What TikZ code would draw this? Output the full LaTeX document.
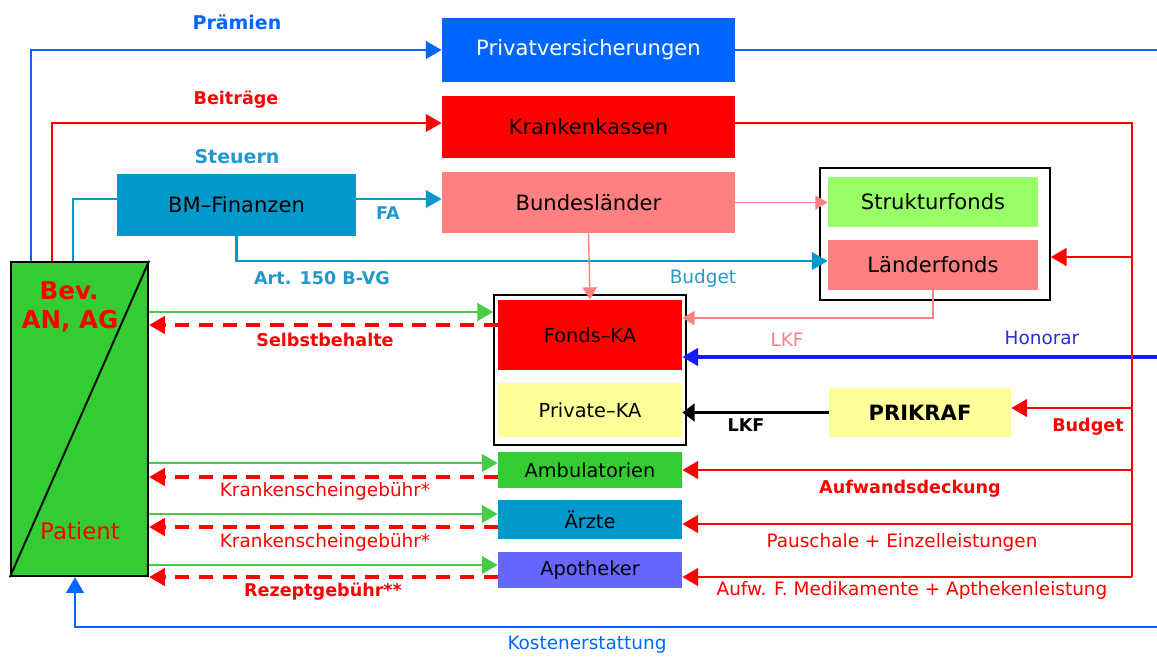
\documentclass[tikz,border=0pt]{standalone}
\usepackage{fontspec}
\setmainfont{DejaVu Sans}
\usetikzlibrary{arrows.meta,calc}
\definecolor{pvblue}{HTML}{0066FF}
\definecolor{kkred}{HTML}{FF0000}
\definecolor{pink}{HTML}{FF8080}
\definecolor{teal}{HTML}{0099CC}
\definecolor{lteal}{HTML}{2299CC}
\definecolor{lgreen}{HTML}{99FF66}
\definecolor{yel}{HTML}{FFFF99}
\definecolor{grn}{HTML}{33CC33}
\definecolor{lgrn}{HTML}{44CC44}
\definecolor{purp}{HTML}{6666FF}
\definecolor{honblue}{HTML}{1A1AFF}
\definecolor{honlbl}{HTML}{2A2AE0}
\newcommand\mybox[7]{%
  \node[#6, minimum width={(#4-#2)*0.02cm}, minimum height={(#5-#3)*0.02cm}]
    (#1) at ({(#2+#4)/2},{(#3+#5)/2}) {#7};}
\begin{document}
\begin{tikzpicture}[x=0.02cm,y=-0.02cm,
  box/.style={draw=none, inner sep=0pt, font=\fontsize{12}{14}\selectfont},
  sbox/.style={box, font=\fontsize{11}{13}\selectfont},
  grp/.style={draw=black, line width=0.9pt, inner sep=0pt},
  lbl/.style={font=\fontsize{10.5}{12}\selectfont, inner sep=0pt},
  blbl/.style={font=\fontsize{10}{12}\selectfont\bfseries, inner sep=0pt},
  bblbl/.style={font=\fontsize{10.8}{12}\selectfont\bfseries, inner sep=0pt},
  tipA/.style={-{Triangle[length=9pt,width=10pt]}},
  tipB/.style={-{Triangle[length=7pt,width=8pt]}},
  dashred/.style={draw=kkred, line width=1.8pt, dash pattern=on 8pt off 5.5pt, tipA},
  greenarr/.style={draw=lgrn, line width=1.4pt, tipA},
  redtrunk/.style={draw=kkred, line width=1.6pt},
]
\useasboundingbox (0,0) rectangle (1157,657);

% group frames
\mybox{g1}{820}{168}{1050}{300}{grp}{}
\mybox{g2}{494}{295}{686}{445}{grp}{}

% boxes
\mybox{pv}{442}{18}{735}{82}{box, fill=pvblue, text=white}{Privatversicherungen}
\mybox{kk}{442}{96}{735}{158}{box, fill=kkred}{Krankenkassen}
\mybox{bl}{442}{172}{735}{233}{box, fill=pink}{Bundesländer}
\mybox{bm}{117}{174}{356}{236}{box, fill=teal}{BM–Finanzen}
\mybox{sf}{828}{177}{1038}{227}{box, fill=lgreen}{Strukturfonds}
\mybox{lf}{828}{240}{1038}{290}{box, fill=pink}{Länderfonds}
\mybox{fka}{498}{300}{682}{370}{sbox, fill=kkred}{Fonds–KA}
\mybox{pka}{498}{383}{682}{437}{sbox, fill=yel}{Private–KA}
\mybox{amb}{498}{452}{682}{488}{sbox, fill=grn}{Ambulatorien}
\mybox{arz}{498}{500}{682}{539}{sbox, fill=teal}{Ärzte}
\mybox{apo}{498}{552}{682}{588}{sbox, fill=purp}{Apotheker}
\mybox{prk}{829}{388}{1011}{437}{box, fill=yel, font=\fontsize{12}{14}\selectfont\bfseries}{PRIKRAF}

% patient box
\mybox{pat}{11}{262}{148}{576}{draw=black, line width=1.3pt, fill=grn, inner sep=0pt}{}
\draw[line width=1.1pt] (pat.south west) -- (pat.north east);
\node[inner sep=0pt, text=kkred, font=\fontsize{14}{16}\selectfont\bfseries] (tbev) at (69,291) {Bev.};
\node[inner sep=0pt, text=kkred, font=\fontsize{14}{16}\selectfont\bfseries] (tan) at (70,321) {AN, AG};
\node[inner sep=0pt, text=kkred, font=\fontsize{13}{15}\selectfont] (tpat) at (80,531) {Patient};

% free ends at the right edge
\coordinate (epv) at (1157,48);
\coordinate (ehon) at (1157,357);
\coordinate (eke) at (1157,627);
\coordinate (r1) at (1132,257);
\coordinate (r2) at (1132,408);
\coordinate (r3) at (1132,470);
\coordinate (r4) at (1132,524);
\coordinate (r5) at (1132,577);

% top flows
\draw[draw=pvblue, line width=1.5pt, tipA] ([xshift=0.42cm]pat.north west) |- (pv.west);
\draw[draw=pvblue, line width=1.5pt] (pv.east) -- (pv.east -| epv);
\draw[draw=kkred, line width=1.2pt, tipA] ([xshift=0.84cm]pat.north west) |- ([yshift=0.08cm]kk.west);
\draw[draw=teal, line width=1.2pt] ([xshift=1.26cm]pat.north west) |- ([yshift=0.12cm]bm.west);
\draw[draw=teal, line width=1.2pt, tipA] ([yshift=0.12cm]bm.east) -- ([yshift=0.12cm]bm.east -| bl.west);
\draw[draw=teal, line width=1.2pt, tipA] (bm.south) |- ([yshift=0.08cm]lf.west);
\draw[draw=pink, line width=0.8pt, tipB] (bl.east) -- (bl.east -| sf.west);
\draw[draw=pink, line width=0.8pt, tipB] (bl.south) -- (fka.north);
\draw[draw=pink, line width=0.8pt, tipB] (lf.south) |- ([yshift=0.34cm]fka.east);

% right side
\draw[draw=honblue, line width=1.8pt, tipA] (ehon) -- (ehon -| fka.east);
\draw[draw=black, line width=2.2pt, -{Triangle[length=7pt,width=10pt]}] (prk.west) -- (prk.west -| pka.east);
\draw[redtrunk] ([yshift=0.08cm]kk.east) -| (r5);
\draw[redtrunk, tipA] (r1) -- (r1 -| g1.east);
\draw[redtrunk, tipA] (r2) -- (r2 -| prk.east);
\draw[redtrunk, tipA] (r3) -- (r3 -| amb.east);
\draw[redtrunk, tipA] (r4) -- (r4 -| arz.east);
\draw[redtrunk, tipA] (r5) -- (r5 -| apo.east);

% patient flows
\draw[greenarr] (pat.east |- 0,312) -- (g2.west |- 0,312);
\draw[dashred] (fka.west |- 0,325) -- (pat.east |- 0,325);
\draw[greenarr] (pat.east |- 0,463) -- (amb.west |- 0,463);
\draw[dashred] (amb.west |- 0,477) -- (pat.east |- 0,477);
\draw[greenarr] (pat.east |- 0,514) -- (arz.west |- 0,514);
\draw[dashred] (arz.west |- 0,527) -- (pat.east |- 0,527);
\draw[greenarr] (pat.east |- 0,565) -- (apo.west |- 0,565);
\draw[dashred] (apo.west |- 0,577) -- (pat.east |- 0,577);

% Kostenerstattung
\draw[draw=pvblue, line width=1.3pt, tipA] (eke) -| (75,0 |- pat.south);

% labels
\node[bblbl, text=pvblue] (lpr) at (237,22) {Prämien};
\node[blbl, text=kkred] (lbe) at (236,100) {Beiträge};
\node[bblbl, text=lteal] (lst) at (237,157) {Steuern};
\node[blbl, text=lteal] (lfa) at (388,213) {FA};
\node[blbl, text=lteal] (lart) at (322,278) {Art. 150 B-VG};
\node[lbl, text=lteal] (lbu) at (703,278) {Budget};
\node[lbl, text=pink] (llkf) at (787,340) {LKF};
\node[lbl, text=honlbl] (lhon) at (1042,338) {Honorar};
\node[blbl, text=black] (llkf2) at (746,425) {LKF};
\node[blbl, text=kkred] (lbu2) at (1088,427) {Budget};
\node[blbl, text=kkred] (lsb) at (325,340) {Selbstbehalte};
\node[lbl, text=kkred] (lk1) at (325,491) {Krankenscheingebühr*};
\node[lbl, text=kkred] (lk2) at (325,542) {Krankenscheingebühr*};
\node[blbl, text=kkred] (lrz) at (323,592) {Rezeptgebühr**};
\node[blbl, text=kkred] (lauf) at (910,489) {Aufwandsdeckung};
\node[lbl, text=kkred] (lpau) at (902,542) {Pauschale + Einzelleistungen};
\node[lbl, text=kkred] (lmed) at (912,590) {Aufw. F. Medikamente + Apthekenleistung};
\node[lbl, text=pvblue] (lke) at (587,645) {Kostenerstattung};
\end{tikzpicture}
\end{document}
